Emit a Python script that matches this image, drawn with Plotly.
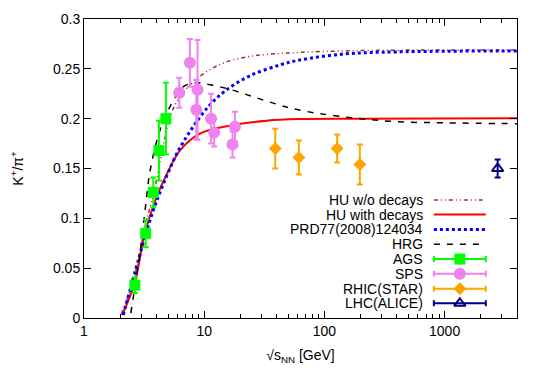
import plotly.graph_objects as go

# ---- data ----
hu_nodec_x = [2.05, 2.6, 3.2, 3.54, 3.9, 4.56, 5.3, 6.3, 8.1, 11.1, 15.3, 23, 33, 63, 150, 500, 4000]
hu_nodec_y = [0.004, 0.04, 0.09, 0.111, 0.132, 0.172, 0.205, 0.222, 0.237, 0.249, 0.257, 0.262, 0.2645, 0.2665, 0.268, 0.2688, 0.269]

hu_dec_x = [2.08, 2.65, 3.21, 4.02, 5.0, 6.27, 9.2, 17.4, 33, 63, 200, 4000]
hu_dec_y = [0.003, 0.036, 0.085, 0.1215, 0.147, 0.168, 0.185, 0.1935, 0.198, 0.1996, 0.2, 0.2005]

prd_x = [2.12, 2.83, 3.77, 4.86, 6.1, 8.1, 11, 15, 24, 43, 63, 150, 400, 4000]
prd_y = [0.003, 0.058, 0.108, 0.142, 0.168, 0.192, 0.213, 0.228, 0.243, 0.254, 0.259, 0.265, 0.267, 0.268]

hrg_x = [2.45, 2.92, 3.21, 3.54, 4.2, 5.19, 6.7, 8.5, 10, 15.3, 25.5, 42.5, 55, 91.5, 189, 398, 1000, 4000]
hrg_y = [0.005, 0.065, 0.1065, 0.147, 0.185, 0.212, 0.232, 0.236, 0.235, 0.2304, 0.222, 0.2136, 0.21, 0.205, 0.2003, 0.197, 0.1958, 0.195]

ags_x = [2.65, 3.26, 3.77, 4.2, 4.8]
ags_y = [0.033, 0.085, 0.126, 0.168, 0.200]
ags_err = [0.008, 0.014, 0.015, 0.030, 0.036]

sps_x = [6.2, 7.6, 8.6, 8.8, 11.4, 12.1, 17.2, 18.0]
sps_y = [0.226, 0.256, 0.209, 0.229, 0.200, 0.186, 0.174, 0.192]
sps_err = [0.015, 0.024, 0.030, 0.050, 0.025, 0.014, 0.013, 0.015]

rhic_x = [39, 61.3, 127.6, 197]
rhic_y = [0.170, 0.161, 0.170, 0.154]
rhic_err = [0.020, 0.017, 0.014, 0.020]

lhc_x = [2760]
lhc_y = [0.150]
lhc_err = [0.009]

x_tickvals = [1, 10, 100, 1000]
x_ticktext = ["1", "10", "100", "1000"]
y_tickvals = [0, 0.05, 0.1, 0.15, 0.2, 0.25, 0.3]
y_ticktext = ["0", "0.05", "0.1", "0.15", "0.2", "0.25", "0.3"]

legend_labels = ["HU w/o decays", "HU with decays", "PRD77(2008)124034", "HRG",
                 "AGS", "SPS", "RHIC(STAR)", "LHC(ALICE)"]

# ---- styles ----
BROWN = "#a52a2a"
RED = "#ff0000"
BLUE = "#0000ff"
BLACK = "#000000"
GREEN = "#00ff00"
VIOLET = "#ee82ee"
ORANGE = "#ffa500"
NAVY = "#000080"
DASHDOTDOT = "4px,3px,1px,3px,1px,3px"
HRGDASH = "6px,7px"
FS = 14

fig = go.Figure()

fig.add_trace(go.Scatter(x=hu_nodec_x, y=hu_nodec_y, mode="lines", line_shape="spline",
                         line=dict(color=BROWN, width=1.5, dash=DASHDOTDOT)))
fig.add_trace(go.Scatter(x=hu_dec_x, y=hu_dec_y, mode="lines", line_shape="spline",
                         line=dict(color=RED, width=2)))
fig.add_trace(go.Scatter(x=prd_x, y=prd_y, mode="lines", line_shape="spline",
                         line=dict(color=BLUE, width=3, dash="dot")))
fig.add_trace(go.Scatter(x=hrg_x, y=hrg_y, mode="lines", line_shape="spline",
                         line=dict(color=BLACK, width=1.5, dash=HRGDASH)))

def pts(x, y, err, color, symbol, size, lw=0):
    return go.Scatter(x=x, y=y, mode="markers",
                      marker=dict(color=color, symbol=symbol, size=size,
                                  line=dict(color=color, width=lw)),
                      error_y=dict(type="data", array=err, color=color, thickness=2, width=3))

fig.add_trace(pts(ags_x, ags_y, ags_err, GREEN, "square", 11))
fig.add_trace(pts(sps_x, sps_y, sps_err, VIOLET, "circle", 12))
fig.add_trace(pts(rhic_x, rhic_y, rhic_err, ORANGE, "diamond", 10))
fig.add_trace(pts(lhc_x, lhc_y, lhc_err, NAVY, "triangle-up-open", 10, 2))

# ---- custom legend (text left, sample right) ----
row_y = [0.395, 0.346, 0.296, 0.247, 0.197, 0.148, 0.098, 0.049]
text_x = 0.785
s0, s1, sc = 0.808, 0.928, 0.868
line_styles = [(BROWN, 1.5, DASHDOTDOT), (RED, 2, "solid"), (BLUE, 3, "dot"), (BLACK, 1.5, HRGDASH)]
for i, lab in enumerate(legend_labels):
    fig.add_annotation(x=text_x, y=row_y[i], xref="paper", yref="paper", text=lab,
                       showarrow=False, xanchor="right", yanchor="middle", borderpad=0,
                       font=dict(size=FS, color="black"))
for i, (c, w, d) in enumerate(line_styles):
    fig.add_shape(type="line", xref="paper", yref="paper", x0=s0, x1=s1, y0=row_y[i], y1=row_y[i],
                  line=dict(color=c, width=w, dash=d))
leg_pts = [(GREEN, "square", 11, 0), (VIOLET, "circle", 12, 0), (ORANGE, "diamond", 10, 0),
           (NAVY, "triangle-up-open", 10, 2)]
for j, (c, sym, sz, lw) in enumerate(leg_pts):
    fig.add_trace(go.Scatter(x=[sc], y=[row_y[4 + j]], xaxis="x2", yaxis="y2", mode="markers",
                             marker=dict(color=c, symbol=sym, size=sz, line=dict(color=c, width=lw)),
                             error_x=dict(type="constant", value=(s1 - s0) / 2, color=c,
                                          thickness=2, width=3)))

axis_common = dict(showline=True, linecolor="black", linewidth=1, mirror="ticks",
                   ticks="inside", tickcolor="black", showgrid=False, zeroline=False,
                   tickfont=dict(size=FS, color="black"))

fig.update_layout(
    width=537, height=374,
    margin=dict(l=76, r=28, t=11, b=64),
    plot_bgcolor="white", paper_bgcolor="white",
    showlegend=False,
    font=dict(family="Liberation Sans, Arial, sans-serif", size=FS, color="black"),
    xaxis=dict(type="log", range=[0, 3.602], tickvals=x_tickvals, ticktext=x_ticktext,
               ticklen=7, minor=dict(ticks="inside", ticklen=4, dtick="D1", tickcolor="black"),
               title=dict(text="√s<sub>NN</sub> [GeV]", font=dict(size=FS), standoff=12),
               **axis_common),
    yaxis=dict(range=[0, 0.3], tickvals=y_tickvals, ticktext=y_ticktext, ticklen=7,
               title=dict(text="K<sup>+</sup>/π<sup>+</sup>", font=dict(size=FS), standoff=42),
               automargin=False,
               **axis_common),
    xaxis2=dict(overlaying="x", range=[0, 1], visible=False, fixedrange=True),
    yaxis2=dict(overlaying="y", range=[0, 1], visible=False, fixedrange=True),
)

fig.write_html("out.html")
